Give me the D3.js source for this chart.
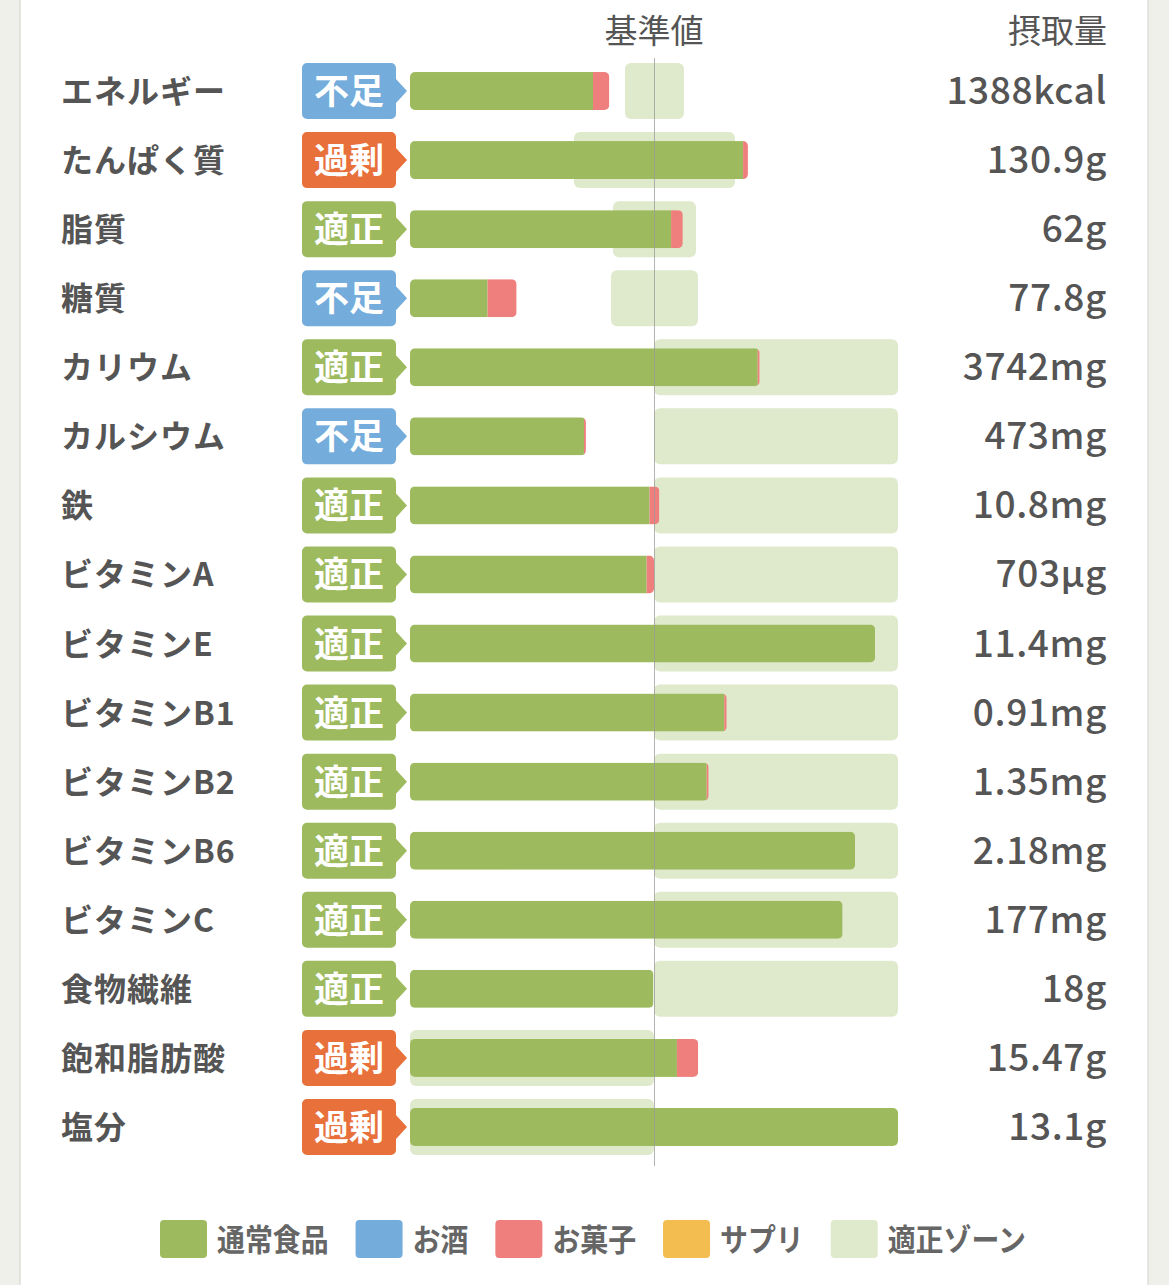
<!DOCTYPE html>
<html>
<head>
<meta charset="utf-8">
<script src="https://cdn.jsdelivr.net/npm/d3@7"></script>
<style>
  body { margin: 0; background: #f0f0eb; }
  svg { display: block; }
  text { font-family: "Noto Sans CJK JP", "Noto Sans", sans-serif; }
</style>
</head>
<body>
<svg id="chart" width="1169" height="1285"></svg>
<script>
// nutrients, top to bottom
var nutrients = ["エネルギー", "たんぱく質", "脂質", "糖質", "カリウム", "カルシウム", "鉄",
  "ビタミンA", "ビタミンE", "ビタミンB1", "ビタミンB2", "ビタミンB6", "ビタミンC",
  "食物繊維", "飽和脂肪酸", "塩分"];
var statuses = ["不足", "過剰", "適正", "不足", "適正", "不足", "適正", "適正", "適正", "適正",
  "適正", "適正", "適正", "適正", "過剰", "過剰"];
var intakeLabels = ["1388kcal", "130.9g", "62g", "77.8g", "3742mg", "473mg", "10.8mg", "703µg",
  "11.4mg", "0.91mg", "1.35mg", "2.18mg", "177mg", "18g", "15.47g", "13.1g"];

// % of the reference value (基準値 = 100)
var food       = [75.0, 136.5, 107.0, 31.8, 142.5, 71.3, 98.2, 97.0, 190.6, 128.8, 121.6, 182.4, 177.3, 99.8, 109.4, 200];
var alcohol    = [0, 0, 0, 0, 0, 0, 0, 0, 0, 0, 0, 0, 0, 0, 0, 0];
var snack      = [6.7, 2.0, 4.8, 11.9, 0.8, 0.8, 4.0, 3.0, 0, 1.0, 0.8, 0, 0, 0, 8.7, 0];
var supplement = [0, 0, 0, 0, 0, 0, 0, 0, 0, 0, 0, 0, 0, 0, 0, 0];
var zoneLow    = [88.1, 67.2, 83.2, 82.4, 100, 100, 100, 100, 100, 100, 100, 100, 100, 100, 0, 0];
var zoneHigh   = [112.3, 133.2, 117.2, 118.0, 200, 200, 200, 200, 200, 200, 200, 200, 200, 200, 100, 100];

var seriesKeys = ["food", "alcohol", "snack", "supplement"];
var legendLabels = ["通常食品", "お酒", "お菓子", "サプリ", "適正ゾーン"];

var colors = {food: "#9dbb5e", alcohol: "#74acdc", snack: "#ef7f7c", supplement: "#f3bd50", zone: "#dfe9cc"};
var statusColors = {"不足": "#74acdc", "過剰": "#e8703b", "適正": "#9dbb5e"};
var textColor = "#555";

var rows = nutrients.map(function(n, i) {
  return {name: n, food: food[i], alcohol: alcohol[i], snack: snack[i], supplement: supplement[i],
    lo: zoneLow[i], hi: zoneHigh[i], status: statuses[i], label: intakeLabels[i]};
});

var svg = d3.select("#chart");

// card
svg.append("rect").attr("x", 20).attr("y", -2).attr("width", 1128).attr("height", 1290)
  .attr("fill", "#fff").attr("stroke", "#deded8").attr("stroke-width", 1.5);

var x = d3.scaleLinear().domain([0, 200]).range([410, 898]);
var y = d3.scaleBand().domain(nutrients).range([56.5, 1161.5]);

var barH = 38, zoneH = 56;

// headers
svg.append("text").attr("x", x(100)).attr("y", 43).attr("text-anchor", "middle")
  .attr("font-size", 33).attr("fill", textColor).text("基準値");
svg.append("text").attr("x", 1107).attr("y", 43).attr("text-anchor", "end")
  .attr("font-size", 33).attr("fill", textColor).text("摂取量");

var row = svg.selectAll("g.row").data(rows).enter().append("g")
  .attr("class", "row")
  .attr("transform", function(d) { return "translate(0," + (y(d.name) + y.bandwidth() / 2) + ")"; });

// nutrient names
row.append("text").attr("x", 61).attr("y", 12)
  .attr("font-size", 32).attr("font-weight", 700).attr("fill", textColor)
  .attr("letter-spacing", 1)
  .text(function(d) { return d.name; });

// status badge with a small arrow on the right
function badgePath(x0, y0, w, h, r, aw, ah) {
  var p = d3.path(), cy = y0 + h / 2;
  p.moveTo(x0 + r, y0);
  p.lineTo(x0 + w - r, y0);
  p.arcTo(x0 + w, y0, x0 + w, y0 + r, r);
  p.lineTo(x0 + w, cy - ah);
  p.lineTo(x0 + w + aw, cy);
  p.lineTo(x0 + w, cy + ah);
  p.lineTo(x0 + w, y0 + h - r);
  p.arcTo(x0 + w, y0 + h, x0 + w - r, y0 + h, r);
  p.lineTo(x0 + r, y0 + h);
  p.arcTo(x0, y0 + h, x0, y0 + h - r, r);
  p.lineTo(x0, y0 + r);
  p.arcTo(x0, y0, x0 + r, y0, r);
  p.closePath();
  return p.toString();
}

row.append("path")
  .attr("d", badgePath(302, -28, 94, 56, 5, 11, 12))
  .attr("fill", function(d) { return statusColors[d.status]; });
row.append("text").attr("x", 349).attr("y", 13).attr("text-anchor", "middle")
  .attr("font-size", 35).attr("font-weight", 700).attr("fill", "#fff")
  .text(function(d) { return d.status; });

// target zone
row.append("rect")
  .attr("x", function(d) { return x(d.lo); })
  .attr("width", function(d) { return x(d.hi) - x(d.lo); })
  .attr("y", -zoneH / 2).attr("height", zoneH).attr("rx", 6)
  .attr("fill", colors.zone);

// stacked intake bars, clipped to a rounded outline
var stacked = d3.stack().keys(seriesKeys)(rows);

row.append("clipPath")
  .attr("id", function(d, i) { return "clip" + i; })
  .append("rect")
  .attr("x", x(0))
  .attr("width", function(d) { return x(d3.sum(seriesKeys, function(k) { return d[k]; })) - x(0); })
  .attr("y", -barH / 2).attr("height", barH).attr("rx", 5);

row.each(function(d, i) {
  var g = d3.select(this).append("g").attr("clip-path", "url(#clip" + i + ")");
  stacked.forEach(function(s) {
    var seg = s[i];
    if (seg[1] - seg[0] <= 0) return;
    g.append("rect")
      .attr("x", x(seg[0]))
      .attr("width", x(seg[1]) - x(seg[0]))
      .attr("y", -barH / 2).attr("height", barH)
      .attr("fill", colors[s.key]);
  });
});

// intake value
row.append("text").attr("x", 1107).attr("y", 13).attr("text-anchor", "end")
  .attr("font-size", 37).attr("font-weight", 500).attr("fill", textColor)
  .attr("letter-spacing", 0.6)
  .text(function(d) { return d.label; });

// reference line
svg.append("line")
  .attr("x1", x(100) + 0.5).attr("x2", x(100) + 0.5)
  .attr("y1", 58).attr("y2", 1166)
  .attr("stroke", "#9a9a9a").attr("stroke-opacity", 0.75).attr("stroke-width", 1);

// legend
var legendColors = [colors.food, colors.alcohol, colors.snack, colors.supplement, colors.zone];
var legend = svg.append("g").attr("transform", "translate(160,1220)");
var lx = 0;
legendLabels.forEach(function(lab, i) {
  legend.append("rect").attr("x", lx).attr("y", 0).attr("width", 47).attr("height", 38)
    .attr("rx", 4).attr("fill", legendColors[i]);
  var t = legend.append("text").attr("x", 0).attr("y", 31)
    .attr("font-size", 31).attr("font-weight", 700).attr("fill", "#666")
    .attr("transform", "translate(" + (lx + 57) + ",0) scale(0.9,1)")
    .text(lab);
  lx += 57 + t.node().getComputedTextLength() * 0.9 + 27;
});
</script>
</body>
</html>
